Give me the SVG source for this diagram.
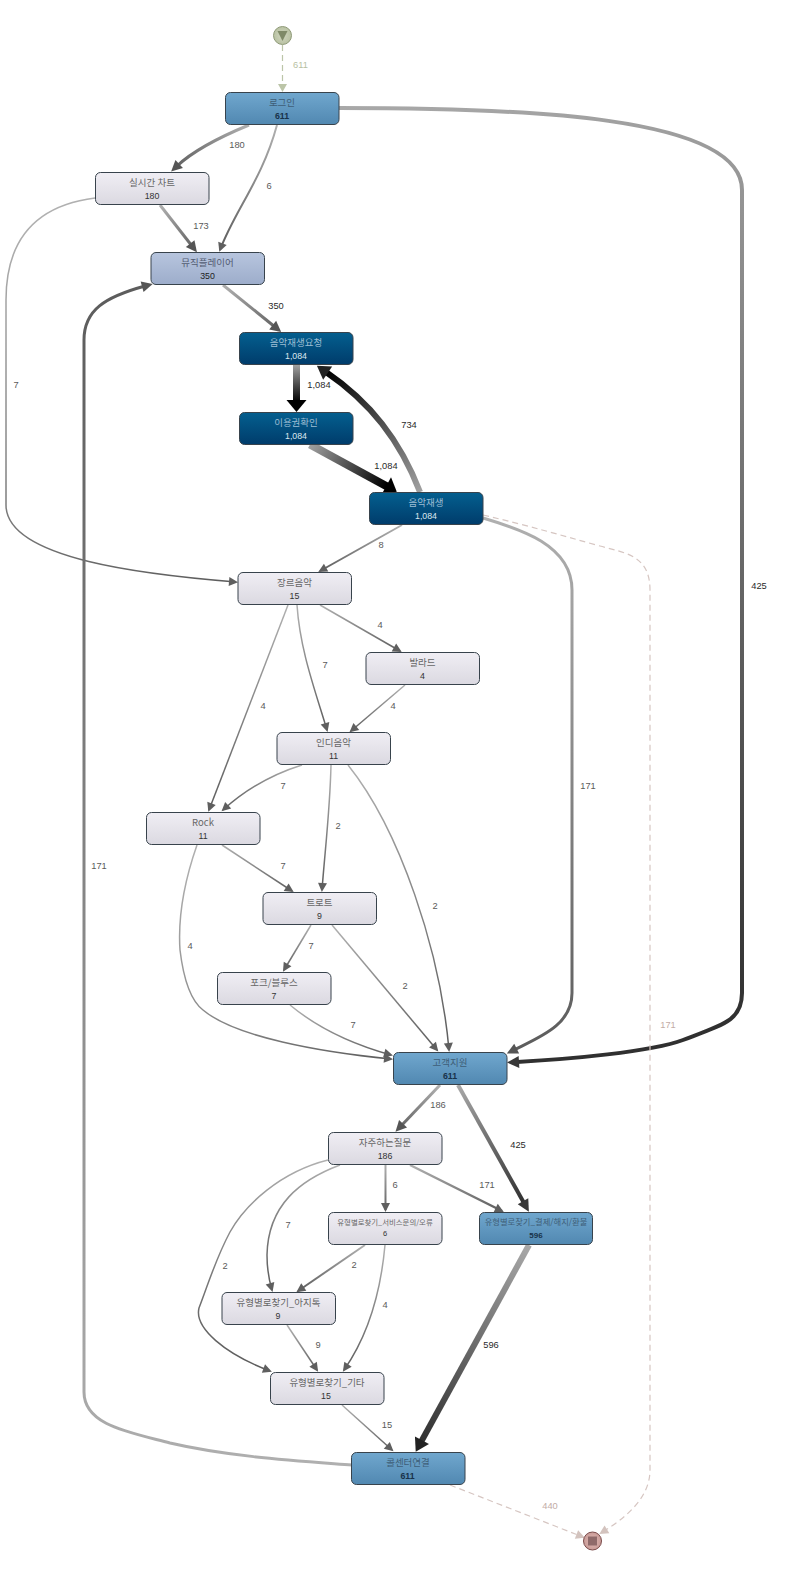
<svg xmlns="http://www.w3.org/2000/svg" xmlns:xlink="http://www.w3.org/1999/xlink" width="790" height="1579" viewBox="0 0 790 1579">
<style>
text{text-anchor:middle}
.t{font-family:"Noto Sans CJK KR","Liberation Sans",sans-serif;font-size:9.5px}
.n{font-family:"Liberation Sans",Arial,sans-serif;font-size:8.8px}
.l{font-family:"Liberation Sans",Arial,sans-serif;font-size:9.3px;fill:#5a5a5a}
.l2{fill:#2a2a2a}
.lg{fill:#b7bfa3}.lp{fill:#c2aca6}
.box{stroke:#38434c;stroke-width:1}
.blue{fill:url(#fb)}.navy{fill:url(#fn)}.lite{fill:url(#fl)}.peri{fill:url(#fp)}
.blue+.t{fill:#3f5e77}.blue+.t+.n{fill:#18324a;font-weight:bold}
.navy+.t{fill:#9dbdd3}.navy+.t+.n{fill:#dbe7ef}
.lite+.t{fill:#666}.lite+.t+.n{fill:#333}
.peri+.t{fill:#535c72}.peri+.t+.n{fill:#222}
path{fill:none}
.d{stroke-dasharray:6 4;stroke-width:1.2}
</style>
<defs>
<linearGradient id="fb" x1="0" y1="0" x2="0" y2="1"><stop offset="0" stop-color="#70a7ce"/><stop offset="1" stop-color="#5188b1"/></linearGradient>
<linearGradient id="fn" x1="0" y1="0" x2="0" y2="1"><stop offset="0" stop-color="#045f8f"/><stop offset="1" stop-color="#003c6b"/></linearGradient>
<linearGradient id="fl" x1="0" y1="0" x2="0" y2="1"><stop offset="0" stop-color="#f0eef4"/><stop offset="1" stop-color="#dbd9e1"/></linearGradient>
<linearGradient id="fp" x1="0" y1="0" x2="0" y2="1"><stop offset="0" stop-color="#b7c5de"/><stop offset="1" stop-color="#9dadcb"/></linearGradient>
<linearGradient id="sg"><stop offset="0" stop-color="#b0b0b0"/><stop offset="1" stop-color="#5c5c5c"/></linearGradient>
<linearGradient id="sd"><stop offset="0" stop-color="#a8a8a8"/><stop offset="1" stop-color="#303030"/></linearGradient>
<linearGradient id="sk"><stop offset="0" stop-color="#a0a0a0"/><stop offset="1" stop-color="#000"/></linearGradient>
<linearGradient id="e1" href="#sg" gradientUnits="userSpaceOnUse" x1="249" y1="125" x2="172" y2="172"/>
<linearGradient id="e2" href="#sg" gradientUnits="userSpaceOnUse" x1="277" y1="125" x2="219" y2="252"/>
<linearGradient id="e3" href="#sd" gradientUnits="userSpaceOnUse" x1="339" y1="108" x2="507" y2="1063"/>
<linearGradient id="e4" href="#sg" gradientUnits="userSpaceOnUse" x1="160" y1="205" x2="197" y2="252"/>
<linearGradient id="e5" href="#sg" gradientUnits="userSpaceOnUse" x1="95" y1="198" x2="238" y2="582"/>
<linearGradient id="e6" href="#sg" gradientUnits="userSpaceOnUse" x1="223" y1="285" x2="281" y2="332"/>
<linearGradient id="e7" href="#sg" gradientUnits="userSpaceOnUse" x1="351" y1="1468" x2="152" y2="283"/>
<linearGradient id="e8" href="#sk" gradientUnits="userSpaceOnUse" x1="296" y1="365" x2="296" y2="402"/>
<linearGradient id="e9" href="#sk" gradientUnits="userSpaceOnUse" x1="310" y1="445" x2="386" y2="486"/>
<linearGradient id="e10" href="#sk" gradientUnits="userSpaceOnUse" x1="420" y1="492" x2="326" y2="372"/>
<linearGradient id="e11" href="#sg" gradientUnits="userSpaceOnUse" x1="402" y1="525" x2="318" y2="572"/>
<linearGradient id="e12" href="#sg" gradientUnits="userSpaceOnUse" x1="483" y1="517" x2="507" y2="1052"/>
<linearGradient id="e13" href="#sg" gradientUnits="userSpaceOnUse" x1="288" y1="605" x2="208" y2="812"/>
<linearGradient id="e14" href="#sg" gradientUnits="userSpaceOnUse" x1="297" y1="605" x2="328" y2="732"/>
<linearGradient id="e15" href="#sg" gradientUnits="userSpaceOnUse" x1="320" y1="605" x2="402" y2="652"/>
<linearGradient id="e16" href="#sg" gradientUnits="userSpaceOnUse" x1="405" y1="685" x2="349" y2="732"/>
<linearGradient id="e17" href="#sg" gradientUnits="userSpaceOnUse" x1="302" y1="765" x2="221" y2="812"/>
<linearGradient id="e18" href="#sg" gradientUnits="userSpaceOnUse" x1="331" y1="765" x2="322" y2="892"/>
<linearGradient id="e19" href="#sg" gradientUnits="userSpaceOnUse" x1="348" y1="765" x2="449" y2="1052"/>
<linearGradient id="e20" href="#sg" gradientUnits="userSpaceOnUse" x1="222" y1="845" x2="294" y2="892"/>
<linearGradient id="e21" href="#sg" gradientUnits="userSpaceOnUse" x1="197" y1="845" x2="394" y2="1059"/>
<linearGradient id="e22" href="#sg" gradientUnits="userSpaceOnUse" x1="311" y1="925" x2="283" y2="972"/>
<linearGradient id="e23" href="#sg" gradientUnits="userSpaceOnUse" x1="332" y1="925" x2="438" y2="1052"/>
<linearGradient id="e24" href="#sg" gradientUnits="userSpaceOnUse" x1="290" y1="1005" x2="394" y2="1057"/>
<linearGradient id="e25" href="#sg" gradientUnits="userSpaceOnUse" x1="440" y1="1085" x2="396" y2="1132"/>
<linearGradient id="e26" href="#sd" gradientUnits="userSpaceOnUse" x1="458" y1="1085" x2="524" y2="1203"/>
<linearGradient id="e27" href="#sg" gradientUnits="userSpaceOnUse" x1="385" y1="1165" x2="385" y2="1212"/>
<linearGradient id="e28" href="#sg" gradientUnits="userSpaceOnUse" x1="410" y1="1165" x2="504" y2="1212"/>
<linearGradient id="e29" href="#sg" gradientUnits="userSpaceOnUse" x1="340" y1="1165" x2="273" y2="1292"/>
<linearGradient id="e30" href="#sg" gradientUnits="userSpaceOnUse" x1="328" y1="1160" x2="271" y2="1374"/>
<linearGradient id="e31" href="#sg" gradientUnits="userSpaceOnUse" x1="365" y1="1245" x2="296" y2="1292"/>
<linearGradient id="e32" href="#sg" gradientUnits="userSpaceOnUse" x1="385" y1="1245" x2="343" y2="1372"/>
<linearGradient id="e33" href="#sg" gradientUnits="userSpaceOnUse" x1="287" y1="1325" x2="318" y2="1372"/>
<linearGradient id="e34" href="#sg" gradientUnits="userSpaceOnUse" x1="342" y1="1405" x2="394" y2="1452"/>
<linearGradient id="e35" href="#sd" gradientUnits="userSpaceOnUse" x1="529" y1="1245" x2="421" y2="1442"/>
<marker id="ms" markerUnits="userSpaceOnUse" markerWidth="10" markerHeight="10" refX="7" refY="4.5" orient="auto" overflow="visible"><path d="M0,0L9,4.5L0,9z" style="fill:#5f5f5f"/></marker>
<marker id="mm" markerUnits="userSpaceOnUse" markerWidth="12" markerHeight="12" refX="3" refY="5.5" orient="auto" overflow="visible"><path d="M0,0L11,5.5L0,11z" style="fill:#555"/></marker>
<marker id="md" markerUnits="userSpaceOnUse" markerWidth="13" markerHeight="13" refX="2" refY="6" orient="auto" overflow="visible"><path d="M0,0L12,6L0,12z" style="fill:#383838"/></marker>
<marker id="mk" markerUnits="userSpaceOnUse" markerWidth="15" markerHeight="16" refX="2" refY="8" orient="auto" overflow="visible"><path d="M0,0L13,8L0,16z" style="fill:#222"/></marker>
<marker id="mx" markerUnits="userSpaceOnUse" markerWidth="15" markerHeight="21" refX="2" refY="10" orient="auto" overflow="visible"><path d="M0,0L12,10L0,20z" style="fill:#000"/></marker>
<marker id="mg" markerUnits="userSpaceOnUse" markerWidth="9" markerHeight="9" refX="6" refY="4.5" orient="auto" overflow="visible"><path d="M0,0L8,4.5L0,9z" style="fill:#bcc5a8"/></marker>
<marker id="mp" markerUnits="userSpaceOnUse" markerWidth="10" markerHeight="10" refX="7" refY="4.5" orient="auto" overflow="visible"><path d="M0,0L9,4.5L0,9z" style="fill:#d3c3be"/></marker>
<radialGradient id="cg"><stop offset="0" stop-color="#d0d6bf"/><stop offset="1" stop-color="#b9c2a3"/></radialGradient>
<radialGradient id="cp"><stop offset="0" stop-color="#e0b8b4"/><stop offset="1" stop-color="#c99c98"/></radialGradient>
</defs>
<rect width="790" height="1579" fill="#fff"/>
<g id="connectors">
<path d="M282.5,45V90" class="d" stroke="#bcc5a8" marker-end="url(#mg)"/>
<path d="M249,125C215,139 192,152 177,166" stroke="url(#e1)" stroke-width="3" marker-end="url(#mm)"/>
<path d="M277,125C262,180 235,210 220,250" stroke="url(#e2)" stroke-width="2" marker-end="url(#ms)"/>
<path d="M339,108C520,108 742,115 742,190L742,993C742,1020 725,1024 683,1040C650,1052 570,1059 517,1062" stroke="url(#e3)" stroke-width="4" marker-end="url(#md)"/>
<path d="M160,205L192,246" stroke="url(#e4)" stroke-width="3" marker-end="url(#mm)"/>
<path d="M95,198C40,205 6,235 6,300L6,505C6,560 150,575 236,582" stroke="url(#e5)" stroke-width="1.5" marker-end="url(#ms)"/>
<path d="M223,285L275,327" stroke="url(#e6)" stroke-width="3" marker-end="url(#mm)"/>
<path d="M352,1465C300,1461 230,1457 170,1443C128,1432 84,1425 84,1392L84,340C84,310 105,297 145,286" stroke="url(#e7)" stroke-width="3" marker-end="url(#mm)"/>
<path d="M296.5,365V402" stroke="url(#e8)" stroke-width="7" marker-end="url(#mx)"/>
<path d="M310,444.5L388,487" stroke="url(#e9)" stroke-width="8" marker-end="url(#mx)"/>
<path d="M420,492C400,440 370,402 326,372" stroke="url(#e10)" stroke-width="6" marker-end="url(#mk)"/>
<path d="M402,525L320,571" stroke="url(#e11)" stroke-width="2" marker-end="url(#ms)"/>
<path d="M483,518C520,529 572,545 572,590L572,993C572,1025 540,1037 514,1050" stroke="url(#e12)" stroke-width="3" marker-end="url(#mm)"/>
<path d="M483,515C530,526 560,535 600,546C625,553 650,555 650,590L650,1470C650,1500 622,1520 601,1533" class="d" stroke="#d6c6c2" marker-end="url(#mp)"/>
<path d="M288,605L209,810" stroke="url(#e13)" stroke-width="1.5" marker-end="url(#ms)"/>
<path d="M297,605C300,650 315,690 327,730" stroke="url(#e14)" stroke-width="1.5" marker-end="url(#ms)"/>
<path d="M320,605L400,651" stroke="url(#e15)" stroke-width="1.5" marker-end="url(#ms)"/>
<path d="M405,685L351,731" stroke="url(#e16)" stroke-width="1.5" marker-end="url(#ms)"/>
<path d="M302,765C270,775 245,790 223,810" stroke="url(#e17)" stroke-width="1.5" marker-end="url(#ms)"/>
<path d="M331,765C330,810 325,850 322,890" stroke="url(#e18)" stroke-width="1.5" marker-end="url(#ms)"/>
<path d="M348,765C400,830 440,950 449,1050" stroke="url(#e19)" stroke-width="1.5" marker-end="url(#ms)"/>
<path d="M222,845L292,891" stroke="url(#e20)" stroke-width="1.5" marker-end="url(#ms)"/>
<path d="M197,845C183,885 178,920 180,950C183,975 190,1000 203,1010C235,1037 320,1052 391,1059" stroke="url(#e21)" stroke-width="1.5" marker-end="url(#ms)"/>
<path d="M311,925L284,970" stroke="url(#e22)" stroke-width="1.5" marker-end="url(#ms)"/>
<path d="M332,925L437,1050" stroke="url(#e23)" stroke-width="1.5" marker-end="url(#ms)"/>
<path d="M290,1005C320,1030 355,1045 391,1055" stroke="url(#e24)" stroke-width="1.5" marker-end="url(#ms)"/>
<path d="M440,1085L401,1126" stroke="url(#e25)" stroke-width="3" marker-end="url(#mm)"/>
<path d="M458,1085L524,1203" stroke="url(#e26)" stroke-width="4" marker-end="url(#md)"/>
<path d="M385.5,1165V1210" stroke="url(#e27)" stroke-width="2" marker-end="url(#ms)"/>
<path d="M410,1165L502,1211" stroke="url(#e28)" stroke-width="2.5" marker-end="url(#ms)"/>
<path d="M340,1165C300,1180 268,1205 267,1255C267,1270 269,1280 272,1290" stroke="url(#e29)" stroke-width="1.5" marker-end="url(#ms)"/>
<path d="M328,1160C280,1172 245,1205 230,1232C215,1260 208,1285 199,1308C194,1328 225,1354 270,1371" stroke="url(#e30)" stroke-width="1.5" marker-end="url(#ms)"/>
<path d="M365,1245L298,1291" stroke="url(#e31)" stroke-width="2" marker-end="url(#ms)"/>
<path d="M385,1245C380,1300 365,1340 344,1370" stroke="url(#e32)" stroke-width="1.5" marker-end="url(#ms)"/>
<path d="M287,1325L317,1370" stroke="url(#e33)" stroke-width="1.5" marker-end="url(#ms)"/>
<path d="M342,1405L392,1450" stroke="url(#e34)" stroke-width="1.5" marker-end="url(#ms)"/>
<path d="M529,1245L421,1442" stroke="url(#e35)" stroke-width="6" marker-end="url(#mk)"/>
<path d="M450,1485L583,1537" class="d" stroke="#d6c6c2" marker-end="url(#mp)"/>
</g>
<g id="edge-labels">
<text class="l lg" x="300.5" y="68">611</text>
<text class="l" x="237" y="148">180</text>
<text class="l" x="269" y="189">6</text>
<text class="l l2" x="759" y="589">425</text>
<text class="l" x="201" y="229">173</text>
<text class="l" x="16" y="388">7</text>
<text class="l l2" x="276" y="309">350</text>
<text class="l" x="99" y="869">171</text>
<text class="l l2" x="319" y="388">1,084</text>
<text class="l l2" x="409" y="428">734</text>
<text class="l l2" x="386" y="469">1,084</text>
<text class="l" x="381" y="548">8</text>
<text class="l" x="588" y="789">171</text>
<text class="l lp" x="668" y="1028">171</text>
<text class="l" x="263" y="709">4</text>
<text class="l" x="325" y="668">7</text>
<text class="l" x="380" y="628">4</text>
<text class="l" x="393" y="709">4</text>
<text class="l" x="283" y="789">7</text>
<text class="l" x="338" y="829">2</text>
<text class="l" x="435" y="909">2</text>
<text class="l" x="283" y="869">7</text>
<text class="l" x="190" y="949">4</text>
<text class="l" x="311" y="949">7</text>
<text class="l" x="405" y="989">2</text>
<text class="l" x="353" y="1028">7</text>
<text class="l" x="438" y="1108">186</text>
<text class="l l2" x="518" y="1148">425</text>
<text class="l" x="395" y="1188">6</text>
<text class="l" x="487" y="1188">171</text>
<text class="l" x="288" y="1228">7</text>
<text class="l" x="225" y="1269">2</text>
<text class="l" x="354" y="1268">2</text>
<text class="l" x="385" y="1308">4</text>
<text class="l" x="318" y="1348">9</text>
<text class="l" x="387" y="1428">15</text>
<text class="l l2" x="491" y="1348">596</text>
<text class="l lp" x="550" y="1509">440</text>
</g>
<g id="start"><circle cx="282.5" cy="35.5" r="9" fill="url(#cg)" stroke="#8f9a78"/><path d="M277.5,31H287.5L282.5,41z" style="fill:#7f8a68"/></g>
<g id="end"><circle cx="592.5" cy="1541" r="9" fill="url(#cp)" stroke="#7a4a4a"/><rect x="588" y="1536.5" width="9" height="9" fill="#8f6a6a"/></g>
<g id="login"><rect class="box blue" x="225.5" y="92.5" width="113.5" height="32" rx="5"/><text class="t" x="282" y="105.5">로그인</text><text class="n" x="282" y="119">611</text></g>
<g id="chart"><rect class="box lite" x="95.5" y="172.5" width="113.5" height="32" rx="5"/><text class="t" x="152" y="185.5">실시간 차트</text><text class="n" x="152" y="199">180</text></g>
<g id="player"><rect class="box peri" x="151" y="252.5" width="113.5" height="32" rx="5"/><text class="t" x="207.5" y="265.5">뮤직플레이어</text><text class="n" x="207.5" y="279">350</text></g>
<g id="req"><rect class="box navy" x="239.5" y="332.5" width="113.5" height="32" rx="5"/><text class="t" x="296" y="345.5">음악재생요청</text><text class="n" x="296" y="359">1,084</text></g>
<g id="ticket"><rect class="box navy" x="239.5" y="412.5" width="113.5" height="32" rx="5"/><text class="t" x="296" y="425.5">이용권확인</text><text class="n" x="296" y="439">1,084</text></g>
<g id="play"><rect class="box navy" x="369.5" y="492.5" width="113.5" height="32" rx="5"/><text class="t" x="426" y="505.5">음악재생</text><text class="n" x="426" y="519">1,084</text></g>
<g id="genre"><rect class="box lite" x="238" y="572.5" width="113.5" height="32" rx="5"/><text class="t" x="294.5" y="585.5">장르음악</text><text class="n" x="294.5" y="599">15</text></g>
<g id="ballad"><rect class="box lite" x="366" y="652.5" width="113.5" height="32" rx="5"/><text class="t" x="422.5" y="665.5">발라드</text><text class="n" x="422.5" y="679">4</text></g>
<g id="indie"><rect class="box lite" x="277" y="732.5" width="113.5" height="32" rx="5"/><text class="t" x="333.5" y="745.5">인디음악</text><text class="n" x="333.5" y="759">11</text></g>
<g id="rock"><rect class="box lite" x="146.5" y="812.5" width="113.5" height="32" rx="5"/><text class="t" x="203" y="825.5">Rock</text><text class="n" x="203" y="839">11</text></g>
<g id="trot"><rect class="box lite" x="263" y="892.5" width="113.5" height="32" rx="5"/><text class="t" x="319.5" y="905.5">트로트</text><text class="n" x="319.5" y="919">9</text></g>
<g id="folk"><rect class="box lite" x="217.5" y="972.5" width="113.5" height="32" rx="5"/><text class="t" x="274" y="985.5">포크/블루스</text><text class="n" x="274" y="999">7</text></g>
<g id="support"><rect class="box blue" x="393.5" y="1052.5" width="113.5" height="32" rx="5"/><text class="t" x="450" y="1065.5">고객지원</text><text class="n" x="450" y="1079">611</text></g>
<g id="faq"><rect class="box lite" x="328.5" y="1132.5" width="113.5" height="32" rx="5"/><text class="t" x="385" y="1145.5">자주하는질문</text><text class="n" x="385" y="1159">186</text></g>
<g id="service"><rect class="box lite" x="328.5" y="1212.5" width="113.5" height="32" rx="5"/><text class="t" x="385" y="1225" style="font-size:7.4px">유형별로찾기_서비스문의/오류</text><text class="n" x="385" y="1236" style="font-size:7.5px">6</text></g>
<g id="pay"><rect class="box blue" x="479.5" y="1212.5" width="113" height="32" rx="5"/><text class="t" x="536" y="1225" style="font-size:8.3px">유형별로찾기_결제/해지/환불</text><text class="n" x="536" y="1238" style="font-size:8px">596</text></g>
<g id="ajitalk"><rect class="box lite" x="222" y="1292.5" width="113.5" height="32" rx="5"/><text class="t" x="278.5" y="1305.5">유형별로찾기_아지톡</text><text class="n" x="278" y="1319">9</text></g>
<g id="etc"><rect class="box lite" x="270.5" y="1372.5" width="113.5" height="32" rx="5"/><text class="t" x="327" y="1385.5">유형별로찾기_기타</text><text class="n" x="326" y="1399">15</text></g>
<g id="call"><rect class="box blue" x="351.5" y="1452.5" width="113.5" height="32" rx="5"/><text class="t" x="408" y="1465.5">콜센터연결</text><text class="n" x="407.5" y="1479">611</text></g>
</svg>
